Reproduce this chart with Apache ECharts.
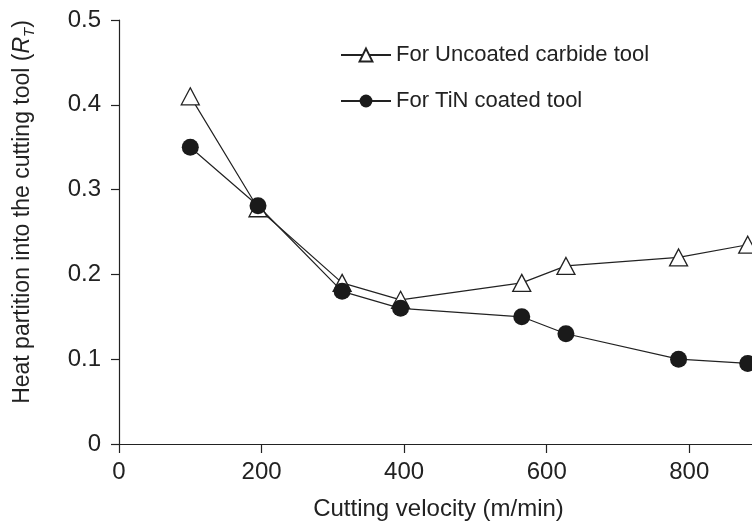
<!DOCTYPE html>
<html>
<head>
<meta charset="utf-8">
<script src="https://cdn.jsdelivr.net/npm/echarts@6/dist/echarts.min.js"></script>
<style>
  html, body { margin: 0; padding: 0; background: #fff; }
  #chart { width: 752px; height: 528px; }
</style>
</head>
<body>
<div id="chart"></div>
<script>
// cutting velocity (m/min)
const velocity = [100, 195, 313, 395, 565, 627, 785, 882]
// heat partition R_T
const uncoated = [0.41, 0.278, 0.19, 0.17, 0.19, 0.21, 0.22, 0.235]
const tinCoated = [0.35, 0.281, 0.18, 0.16, 0.15, 0.13, 0.10, 0.095]
const xTicks = [0, 200, 400, 600, 800]
const seriesNames = ['For Uncoated carbide tool', 'For TiN coated tool']

const font = "'Liberation Sans', Arial, sans-serif"
const ink = '#222'

const chart = echarts.init(document.getElementById('chart'))

const toPairs = (xs, ys) => xs.map((x, i) => [x, ys[i]])

const option = {
  animation: false,
  backgroundColor: '#fff',
  grid: {
    left: 119,
    right: 0,
    top: 20,
    bottom: 84
  },
  legend: {
    orient: 'vertical',
    left: 335,
    top: 39,
    itemGap: 24,
    itemWidth: 50,
    itemHeight: 16,
    data: seriesNames,
    textStyle: { fontFamily: font, fontSize: 22, color: ink }
  },
  xAxis: {
    type: 'value',
    min: 0,
    max: 888,
    name: 'Cutting velocity (m/min)',
    nameLocation: 'middle',
    nameGap: 53,
    nameTextStyle: { fontFamily: font, fontSize: 24, color: ink, padding: [0, 0, 0, 6] },
    axisLine: { lineStyle: { color: ink, width: 1.2 } },
    axisTick: { inside: false, length: 9, customValues: xTicks, lineStyle: { color: ink, width: 1.2 } },
    axisLabel: { fontFamily: font, fontSize: 24, color: ink, margin: 16, customValues: xTicks },
    splitLine: { show: false }
  },
  yAxis: {
    type: 'value',
    min: 0,
    max: 0.5,
    interval: 0.1,
    name: '{n|Heat partition into the cutting tool (}{i|R}{s|T}{n|)}',
    nameLocation: 'middle',
    nameRotate: 90,
    nameGap: 82,
    nameTextStyle: {
      fontFamily: font,
      fontSize: 23,
      color: ink,
      padding: [0, 0, 0, 40],
      rich: {
        n: { fontFamily: font, fontSize: 23, color: ink, lineHeight: 28 },
        i: { fontFamily: font, fontSize: 23, color: ink, fontStyle: 'italic', lineHeight: 28 },
        s: { fontFamily: font, fontSize: 15, color: ink, fontStyle: 'italic', lineHeight: 14, verticalAlign: 'bottom' }
      }
    },
    axisLine: { show: true, lineStyle: { color: ink, width: 1.2 } },
    axisTick: { show: true, inside: false, length: 8, lineStyle: { color: ink, width: 1.2 } },
    axisLabel: {
      fontFamily: font,
      fontSize: 24,
      color: ink,
      margin: 18,
      formatter: v => (v === 0 ? '0' : v.toFixed(1))
    },
    splitLine: { show: false }
  },
  series: [
    {
      name: seriesNames[0],
      type: 'line',
      data: toPairs(velocity, uncoated),
      symbol: 'triangle',
      symbolSize: [18, 17],
      lineStyle: { color: ink, width: 1.2 },
      itemStyle: { color: '#fff', borderColor: ink, borderWidth: 1.3 },
      z: 2
    },
    {
      name: seriesNames[1],
      type: 'line',
      data: toPairs(velocity, tinCoated),
      symbol: 'circle',
      symbolSize: 17,
      lineStyle: { color: ink, width: 1.2 },
      itemStyle: { color: '#1a1a1a', borderColor: '#1a1a1a', borderWidth: 0 },
      z: 3
    }
  ]
}

chart.setOption(option)
</script>
</body>
</html>
